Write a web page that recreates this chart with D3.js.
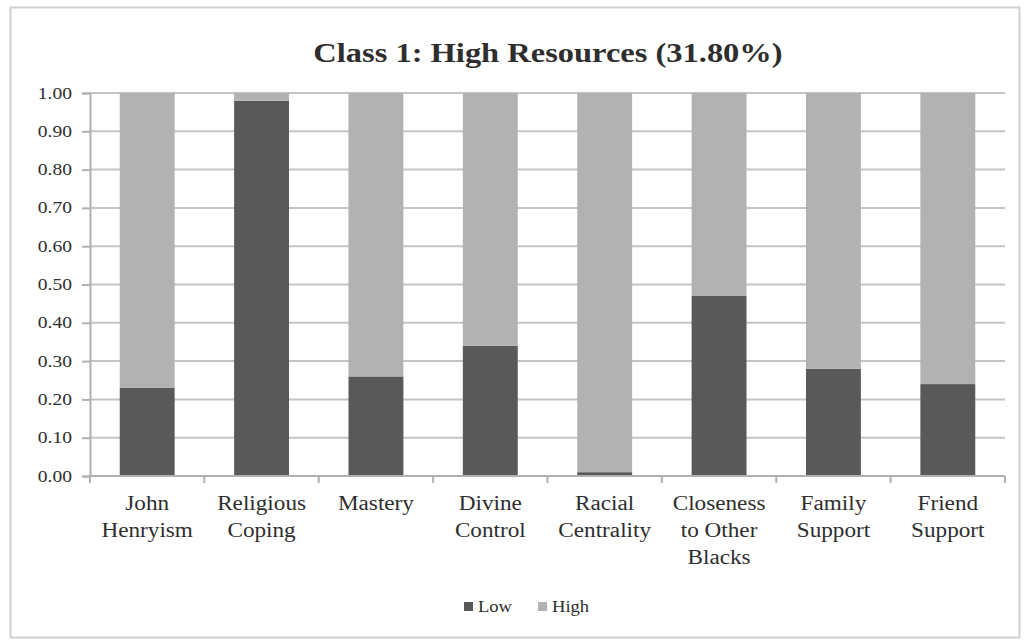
<!DOCTYPE html>
<html>
<head>
<meta charset="utf-8">
<script src="https://cdn.jsdelivr.net/npm/d3@7"></script>
<style>
  html, body { margin: 0; padding: 0; background: #ffffff; }
  svg { display: block; }
  text { font-family: "Liberation Serif", "Times New Roman", serif; fill: #2e2e2e; }
</style>
</head>
<body>
<svg id="chart" width="1024" height="640"></svg>
<script>
// Categories (each label split into lines as shown under the axis)
const categories = [
  "John Henryism", "Religious Coping", "Mastery", "Divine Control",
  "Racial Centrality", "Closeness to Other Blacks", "Family Support", "Friend Support"
];
const categoryLines = [
  ["John", "Henryism"], ["Religious", "Coping"], ["Mastery"], ["Divine", "Control"],
  ["Racial", "Centrality"], ["Closeness", "to Other", "Blacks"], ["Family", "Support"], ["Friend", "Support"]
];
// Share of members at the low and high level of each resource
const lowValues  = [0.23, 0.98, 0.26, 0.34, 0.01, 0.47, 0.28, 0.24];
const highValues = [0.77, 0.02, 0.74, 0.66, 0.99, 0.53, 0.72, 0.76];
const seriesNames = ["Low", "High"];
const yTicks = [0, 0.1, 0.2, 0.3, 0.4, 0.5, 0.6, 0.7, 0.8, 0.9, 1.0];
const titleText = "Class 1: High Resources (31.80%)";

const colors = { Low: "#595959", High: "#b2b2b2" };
const stretch = 1.16; // text is set slightly wide

const svg = d3.select("#chart");
const margin = { left: 90, right: 1005, top: 93, bottom: 476 };

// Outer chart frame
svg.append("rect")
  .attr("x", 10.5).attr("y", 7.5)
  .attr("width", 1009).attr("height", 630)
  .attr("fill", "#ffffff").attr("stroke", "#d0d0d0").attr("stroke-width", 2);

const x = d3.scaleBand().domain(categories).range([margin.left, margin.right]).paddingInner(0.52).paddingOuter(0.26);
const y = d3.scaleLinear().domain([0, 1]).range([margin.bottom, margin.top]);

// Horizontal gridlines
svg.append("g").selectAll("line").data(yTicks.slice(1)).join("line")
  .attr("x1", margin.left).attr("x2", margin.right)
  .attr("y1", d => y(d)).attr("y2", d => y(d))
  .attr("stroke", "#c4c4c4").attr("stroke-width", 2);

// Stacked bars
const rows = categories.map((c, i) => ({ cat: c, Low: lowValues[i], High: highValues[i] }));
const stacked = d3.stack().keys(seriesNames)(rows);
svg.append("g").selectAll("g").data(stacked).join("g")
  .attr("fill", d => colors[d.key])
  .selectAll("rect").data(d => d).join("rect")
  .attr("x", d => x(d.data.cat))
  .attr("width", x.bandwidth())
  .attr("y", d => y(d[1]))
  .attr("height", d => y(d[0]) - y(d[1]));

// Y axis
const yAxis = d3.axisLeft(y).tickValues(yTicks).tickFormat(d3.format(".2f")).tickSize(8);
const gy = svg.append("g").attr("transform", `translate(${margin.left},0)`).call(yAxis)
  .attr("font-family", null).attr("font-size", null);
gy.select(".domain").attr("stroke", "#b0b0b0").attr("stroke-width", 2);
gy.selectAll(".tick line").attr("stroke", "#b0b0b0").attr("stroke-width", 2);
gy.selectAll(".tick text")
  .attr("x", null).attr("dy", null)
  .attr("transform", `translate(-18,5) scale(${stretch + 0.06},1)`)
  .attr("font-size", 16).attr("fill", "#3a3a3a");

// X axis line with tick marks between categories
const boundaries = d3.range(categories.length + 1).map(i => margin.left + i * (margin.right - margin.left) / categories.length);
svg.append("line")
  .attr("x1", margin.left).attr("x2", margin.right)
  .attr("y1", y(0)).attr("y2", y(0))
  .attr("stroke", "#b0b0b0").attr("stroke-width", 2);
svg.append("g").selectAll("line").data(boundaries).join("line")
  .attr("x1", d => d).attr("x2", d => d)
  .attr("y1", y(0)).attr("y2", y(0) + 7)
  .attr("stroke", "#b0b0b0").attr("stroke-width", 2);

// Category labels
const labels = svg.append("g").selectAll("text").data(categories).join("text")
  .attr("transform", d => `translate(${x(d) + x.bandwidth() / 2},510) scale(${stretch},1)`)
  .attr("text-anchor", "middle")
  .attr("font-size", 20);
labels.each(function(d, i) {
  const t = d3.select(this);
  categoryLines[i].forEach((ln, j) => {
    t.append("tspan").attr("x", 0).attr("dy", j === 0 ? 0 : 27).text(ln);
  });
});

// Title
svg.append("text")
  .attr("transform", `translate(548,62) scale(${stretch},1)`)
  .attr("text-anchor", "middle")
  .attr("font-size", 28).attr("font-weight", "bold")
  .attr("fill", "#111111")
  .text(titleText);

// Legend
const legendItems = [{ key: "Low", x: 464 }, { key: "High", x: 538 }];
const lg = svg.append("g").selectAll("g").data(legendItems).join("g")
  .attr("transform", d => `translate(${d.x},607)`);
lg.append("rect").attr("x", 0).attr("y", -5).attr("width", 9).attr("height", 9)
  .attr("fill", d => colors[d.key]);
lg.append("text")
  .attr("transform", `translate(14,5) scale(${stretch},1)`)
  .attr("font-size", 16).attr("fill", "#3a3a3a")
  .text(d => d.key);
</script>
</body>
</html>
